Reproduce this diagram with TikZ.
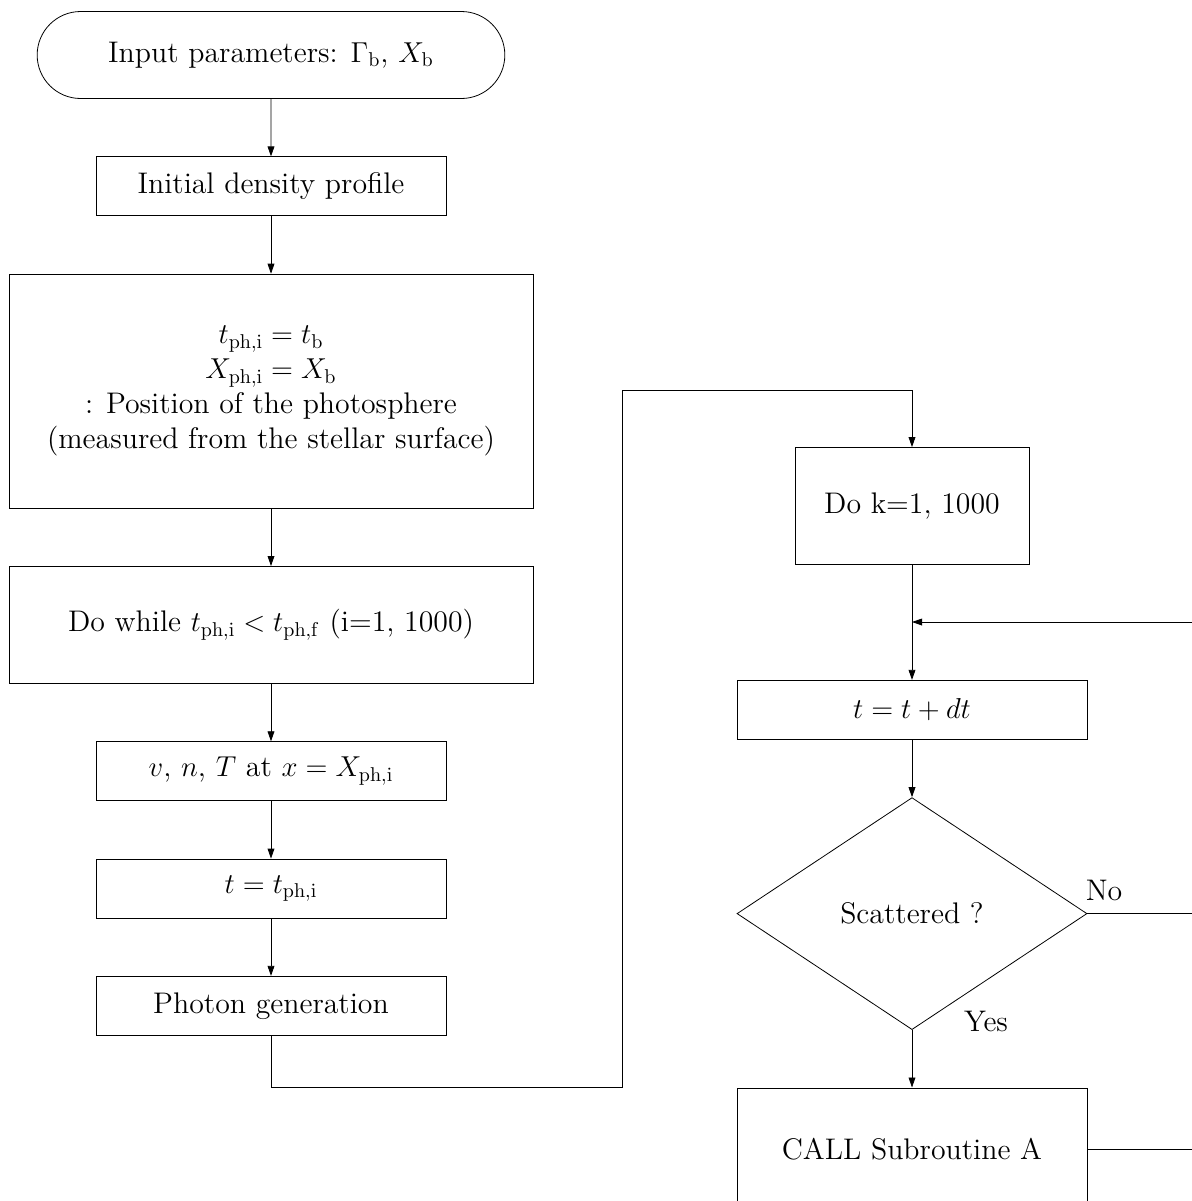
\documentclass[tikz,border=0pt]{standalone}
\usepackage{amsmath}
\usepackage{tikz}
\usetikzlibrary{shapes.geometric, shapes.misc, arrows.meta, positioning}
\tikzstyle{startstop} = [rounded rectangle, minimum width=240.5pt, minimum height=43.5pt, text centered, draw=black, align=center]
\tikzstyle{process} = [rectangle, minimum width=175pt, minimum height=29.5pt, text centered, draw=black, align=center]
\tikzstyle{wideprocess} = [process, minimum width=262pt, minimum height=58.5pt]
\tikzstyle{loopbox} = [process, minimum width=117pt, minimum height=58.5pt]
\tikzstyle{decision} = [diamond, minimum width=175pt, minimum height=116pt, inner sep=0pt, text centered, draw=black]
\tikzstyle{arrow} = [-{Triangle[length=5pt, width=3.4pt]}]

\begin{document}
\begin{tikzpicture}[x=0.5pt, y=-0.5pt, node distance=28.75pt, every node/.style={font=\fontsize{14.9}{17.5}\selectfont}]
	\useasboundingbox (0,0) rectangle (1192,1201);
	\clip (0,0) rectangle (1192,1201);

	% main column
	\node (input) [startstop] at (271,55) {Input parameters: $\Gamma_{\mathrm{b}}$, $X_{\mathrm{b}}$};
	\node (init) [process, below=of input] {Initial density profile};
	\node (photosph) [wideprocess, minimum height=117pt, below=of init] {$t_{\mathrm{ph,i}} = t_{\mathrm{b}}$ \\ $X_{\mathrm{ph,i}} = X_{\mathrm{b}}$ \\ : Position of the photosphere \\ (measured from the stellar surface)};
	\node (dowhile) [wideprocess, below=of photosph] {Do while $t_{\mathrm{ph,i}} < t_{\mathrm{ph,f}}$ (i=1, 1000)};
	\node (vnt) [process, below=of dowhile] {$v$, $n$, $T$ at $x = X_{\mathrm{ph,i}}$};
	\node (tstart) [process, below=of vnt] {$t = t_{\mathrm{ph,i}}$};
	\node (photon) [process, below=of tstart] {Photon generation};

	% loop column
	\node (dok) [loopbox] at (912,506) {Do k=1, 1000};
	\node (tstep) [process, below=57.5pt of dok] {$t = t + dt$};
	\node (scat) [decision, below=of tstep] {Scattered ?};
	\node (call) [process, minimum height=61pt, below=of scat] {CALL Subroutine A};

	\node (nolbl) at (1104,890) {No};
	\node (yeslbl) at (986,1021) {Yes};

	\coordinate (low) at (622,1087);
	\coordinate (high) at (622,390);
	\coordinate (merge) at (912,622);
	\coordinate (loopr) at (1215,622);

	\draw [arrow] (input) -- (init);
	\draw [arrow] (init) -- (photosph);
	\draw [arrow] (photosph) -- (dowhile);
	\draw [arrow] (dowhile) -- (vnt);
	\draw [arrow] (vnt) -- (tstart);
	\draw [arrow] (tstart) -- (photon);
	\draw [arrow] (photon) |- (low) -- (high) -| (dok);

	\draw [arrow] (dok) -- (tstep);
	\draw [arrow] (tstep) -- (scat);
	\draw [arrow] (scat) -- (call);
	\draw (scat.east) -| (loopr);
	\draw (call.east) -| (loopr);
	\draw [arrow] (loopr) -- (merge);
\end{tikzpicture}
\end{document}
